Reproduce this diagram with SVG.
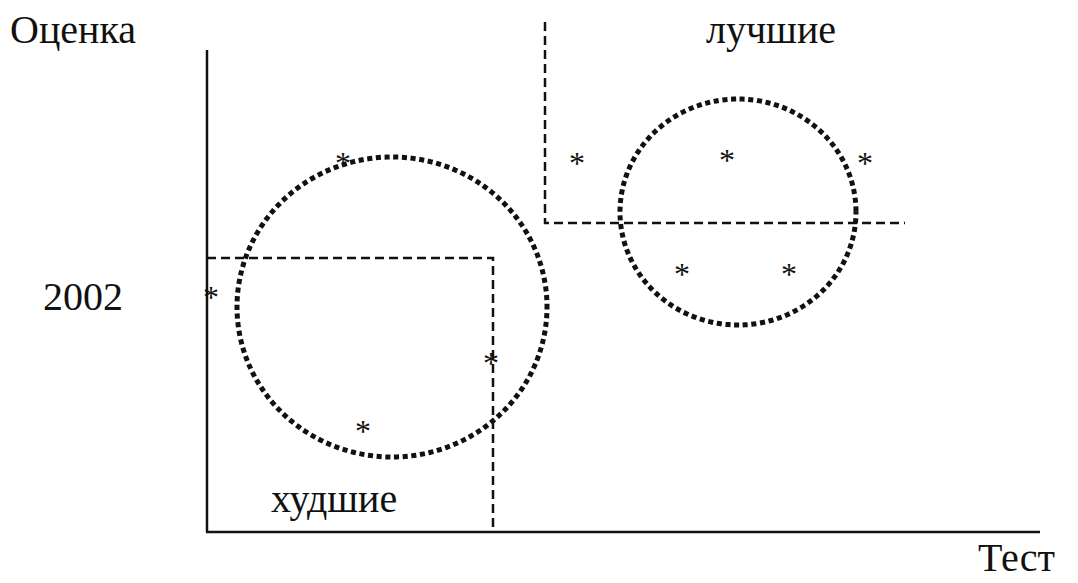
<svg xmlns="http://www.w3.org/2000/svg" width="1078" height="583" viewBox="0 0 1078 583">
<style>
text{font-family:"Liberation Serif","Times New Roman",serif;fill:#111;}
.lbl{font-size:40px;}
.ast{font-size:32px;}
.axis{stroke:#111;stroke-width:2.5;fill:none;}
.dash{stroke:#111;stroke-width:2.5;fill:none;stroke-dasharray:9 5;}
.dots{stroke:#111;stroke-width:5;fill:none;stroke-dasharray:0.1 8.6;stroke-linecap:square;}
</style>
<rect width="1078" height="583" fill="#fff"/>
<g id="axes">
<line class="axis" x1="207" y1="50" x2="207" y2="532"/>
<line class="axis" x1="206" y1="532" x2="1040" y2="532"/>
</g>
<g id="connectors">
<polyline class="dash" points="207,258 493,258 493,532"/>
<polyline class="dash" points="545,22 545,223 905,223"/>
</g>
<g id="cluster-worst"><ellipse class="dots" cx="392" cy="307" rx="155" ry="150"/></g>
<g id="cluster-best"><ellipse class="dots" cx="738" cy="212" rx="118" ry="113"/></g>
<g id="labels">
<text class="lbl" x="10" y="43">Оценка</text>
<text class="lbl" x="43" y="310">2002</text>
<text class="lbl" x="706" y="43">лучшие</text>
<text class="lbl" x="271" y="512">худшие</text>
<text class="lbl" x="978" y="571">Тест</text>
</g>
<g id="points">
<text class="ast" x="343" y="174" text-anchor="middle">*</text>
<text class="ast" x="211" y="308" text-anchor="middle">*</text>
<text class="ast" x="491" y="374" text-anchor="middle">*</text>
<text class="ast" x="363" y="442" text-anchor="middle">*</text>
<text class="ast" x="577" y="174" text-anchor="middle">*</text>
<text class="ast" x="727" y="171" text-anchor="middle">*</text>
<text class="ast" x="865" y="174" text-anchor="middle">*</text>
<text class="ast" x="682" y="285" text-anchor="middle">*</text>
<text class="ast" x="789" y="285" text-anchor="middle">*</text>
</g>
</svg>
